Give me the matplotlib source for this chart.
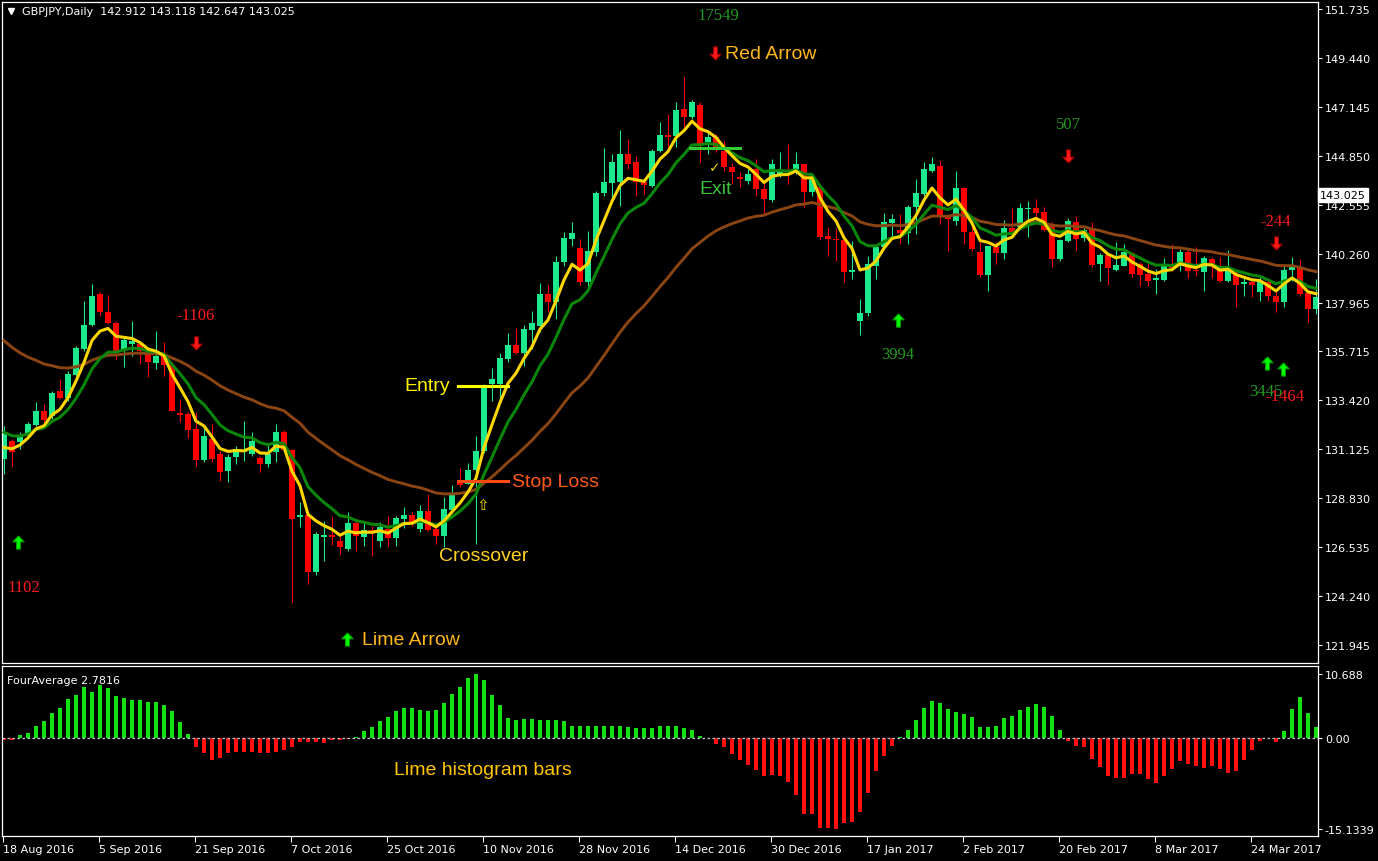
import matplotlib
matplotlib.use('Agg')
import matplotlib.pyplot as plt
from matplotlib.path import Path
from matplotlib.transforms import blended_transform_factory
import numpy as np
import pandas as pd

plt.rcParams['font.family'] = ['DejaVu Sans']

# ─── Data ───
opens = [130.67, 131.52, 131.45, 131.84, 132.26, 132.90, 132.70, 133.85, 133.51, 134.60,
         135.82, 136.94, 138.39, 137.53, 137.03, 135.82, 136.05, 136.05, 135.58, 135.16,
         135.58, 135.07, 132.82, 132.77, 132.07, 130.62, 131.60, 130.90, 130.12, 130.75,
         131.01, 130.90, 130.71, 130.43, 131.00, 131.92, 131.09, 127.94, 128.05, 125.36,
         127.03, 127.08, 126.85, 126.46, 127.67, 127.03, 127.36, 126.85, 127.39, 126.99,
         127.86, 128.06, 127.39, 128.24, 127.39, 127.08, 128.30, 129.61, 129.50, 130.13,
         131.06, 134.18, 134.18, 135.36, 136.01, 135.63, 136.73, 136.91, 138.38, 138.04,
         139.88, 140.97, 140.53, 138.97, 140.37, 143.12, 143.59, 143.62, 144.95, 144.56,
         143.62, 143.46, 145.10, 145.84, 145.81, 147.05, 146.66, 147.24, 145.49, 145.73,
         145.10, 144.36, 143.86, 143.70, 144.25, 143.31, 142.79, 143.93, 144.06, 144.24,
         144.48, 143.18, 143.39, 141.09, 140.97, 140.94, 139.41, 137.15, 137.51, 139.72,
         140.58, 141.72, 141.39, 141.25, 142.45, 143.07, 144.17, 144.40, 141.98, 141.83,
         143.36, 141.28, 140.38, 139.28, 140.61, 140.31, 141.47, 141.51, 142.38, 142.40,
         142.22, 141.67, 140.03, 140.89, 141.75, 141.00, 141.44, 139.80, 140.22, 139.53,
         139.72, 140.31, 139.80, 139.33, 139.06, 139.07, 139.70, 139.69, 140.34, 139.53,
         139.44, 140.03, 139.69, 139.02, 139.33, 138.88, 138.94, 138.50, 138.94, 138.32,
         138.04, 139.53, 139.64, 138.44, 137.69]
highs = [132.23, 131.60, 131.92, 132.38, 133.32, 133.24, 133.87, 134.41, 134.80, 135.97,
         138.08, 138.86, 138.50, 138.34, 137.14, 136.36, 137.14, 136.10, 135.69, 136.67,
         136.13, 135.19, 133.48, 132.85, 132.85, 132.10, 132.31, 131.06, 130.90, 131.29,
         132.43, 131.95, 130.83, 131.37, 132.29, 132.04, 131.14, 128.64, 128.17, 127.24,
         127.78, 127.94, 127.08, 128.17, 127.86, 127.70, 127.55, 127.70, 128.02, 128.02,
         128.44, 128.20, 128.52, 129.03, 127.47, 128.87, 129.45, 130.25, 130.46, 131.76,
         134.18, 134.92, 135.63, 136.56, 136.79, 136.95, 137.58, 138.91, 138.82, 140.19,
         141.31, 141.75, 140.97, 141.36, 143.23, 145.23, 144.95, 146.07, 145.65, 144.84,
         143.78, 145.18, 146.43, 146.82, 147.37, 148.54, 147.49, 147.37, 145.96, 145.88,
         145.57, 144.51, 144.09, 144.24, 144.71, 143.54, 144.71, 145.03, 145.41, 145.03,
         144.48, 144.01, 143.46, 141.51, 141.44, 141.12, 140.89, 138.16, 140.19, 140.74,
         142.17, 142.14, 142.14, 142.56, 143.78, 144.59, 144.82, 144.68, 142.06, 144.17,
         143.39, 141.90, 140.89, 140.66, 140.81, 141.88, 142.40, 142.65, 142.76, 142.84,
         142.45, 141.75, 140.97, 141.93, 142.06, 141.47, 141.78, 140.31, 140.27, 140.81,
         140.73, 140.38, 139.91, 139.84, 139.56, 140.06, 140.73, 140.50, 140.50, 140.58,
         140.19, 140.14, 140.14, 140.47, 139.49, 139.17, 139.10, 139.25, 139.10, 138.55,
         139.69, 140.11, 140.03, 138.50, 139.10]
lows = [129.97, 130.33, 131.14, 131.76, 132.23, 132.38, 132.54, 133.48, 133.40, 134.57,
        135.74, 136.91, 137.38, 136.99, 135.35, 134.96, 135.50, 135.11, 134.49, 134.88,
        134.57, 132.90, 132.42, 131.64, 130.36, 130.54, 130.51, 129.65, 129.61, 130.43,
        130.59, 130.83, 130.04, 130.28, 130.51, 131.06, 123.96, 127.47, 124.82, 125.24,
        125.91, 126.64, 126.22, 126.38, 126.38, 126.61, 126.11, 126.53, 126.61, 126.61,
        127.42, 127.55, 127.27, 127.31, 126.69, 126.53, 128.17, 129.34, 129.50, 126.69,
        130.95, 133.40, 133.40, 135.20, 135.59, 135.01, 135.82, 136.60, 137.57, 137.23,
        139.72, 140.66, 138.82, 138.66, 140.19, 143.00, 142.72, 142.53, 144.24, 142.99,
        143.08, 143.39, 145.06, 145.18, 145.26, 146.04, 146.58, 144.56, 144.95, 145.03,
        144.17, 143.54, 143.39, 143.54, 142.99, 142.14, 142.68, 143.86, 143.54, 144.01,
        142.45, 142.99, 140.95, 140.19, 139.95, 138.94, 139.10, 136.48, 137.35, 139.10,
        140.50, 141.13, 140.74, 140.74, 141.20, 142.99, 144.09, 141.67, 140.42, 141.62,
        140.74, 140.42, 139.17, 138.55, 139.80, 140.03, 141.20, 141.44, 141.05, 141.67,
        141.36, 139.64, 139.95, 140.81, 140.47, 140.89, 139.64, 139.02, 138.81, 139.49,
        139.69, 139.17, 138.75, 138.75, 138.39, 139.02, 139.49, 139.49, 139.14, 139.25,
        138.55, 139.14, 138.94, 138.94, 137.77, 138.29, 138.24, 138.08, 138.08, 137.54,
        137.77, 139.02, 138.32, 137.10, 137.46]
closes = [131.92, 131.01, 131.68, 132.31, 132.93, 132.51, 133.76, 133.51, 134.63, 135.86,
          136.94, 138.28, 137.53, 137.03, 135.69, 136.25, 136.20, 135.74, 135.22, 135.50,
          135.07, 132.93, 132.74, 132.04, 130.62, 131.76, 130.67, 130.08, 130.75, 131.14,
          131.03, 131.52, 130.43, 130.90, 131.95, 131.09, 127.86, 128.05, 125.40, 127.16,
          127.11, 127.03, 126.54, 127.67, 127.05, 127.33, 127.20, 127.47, 126.97, 127.91,
          128.06, 127.70, 128.24, 127.36, 127.08, 128.33, 129.03, 129.45, 130.15, 131.06,
          134.07, 134.42, 135.38, 136.01, 135.63, 136.76, 137.02, 138.38, 138.04, 139.88,
          141.00, 141.24, 138.97, 140.42, 143.12, 143.62, 144.56, 144.95, 144.48, 143.62,
          143.50, 145.10, 145.84, 145.76, 147.01, 146.70, 147.37, 145.41, 145.73, 145.18,
          144.33, 144.09, 143.78, 144.01, 143.31, 142.84, 144.48, 144.12, 144.01, 144.48,
          143.18, 143.85, 141.05, 140.97, 140.92, 139.44, 139.52, 137.51, 139.80, 140.58,
          141.75, 141.90, 141.24, 142.45, 143.12, 144.24, 144.48, 141.98, 141.90, 143.36,
          141.28, 140.50, 139.28, 140.63, 140.31, 141.48, 141.31, 142.42, 142.40, 142.18,
          141.41, 140.03, 140.92, 141.79, 140.97, 141.41, 139.77, 140.22, 139.59, 139.75,
          140.34, 139.33, 139.28, 139.02, 139.12, 139.75, 139.63, 140.37, 139.49, 139.47,
          140.08, 139.69, 139.02, 139.64, 138.81, 138.92, 138.82, 138.94, 138.32, 138.04,
          139.53, 139.69, 138.39, 137.69, 138.24]

# FourAverage histogram, one value per bar
four_avg = [-0.33, -0.33, 0.52, 0.86, 1.95, 2.82, 4.14, 5.00, 6.55, 7.24,
             8.56, 7.70, 8.79, 8.39, 7.07, 6.67, 6.38, 6.38, 5.98, 5.92,
             5.52, 4.43, 2.70, 0.69, -1.58, -2.50, -3.70, -3.32, -2.56, -2.34,
             -2.34, -2.29, -2.45, -2.45, -2.40, -2.01, -1.42, -0.71, -0.60, -0.60,
             -0.76, -0.38, -0.38, -0.11, 0.17, 1.21, 1.78, 2.87, 3.56, 4.43,
             4.94, 5.00, 4.71, 4.54, 4.71, 5.80, 7.41, 8.56, 10.00, 10.688,
             9.60, 7.24, 5.52, 3.28, 2.93, 3.16, 3.16, 2.93, 2.93, 2.93,
             2.82, 2.01, 1.95, 1.95, 2.01, 2.07, 2.07, 2.07, 1.90, 1.67,
             1.61, 1.67, 2.01, 2.07, 1.95, 1.61, 1.38, 0.34, -0.05, -0.98,
             -1.42, -2.61, -3.70, -4.52, -5.33, -6.31, -6.21, -6.31, -7.29, -9.58,
             -12.68, -12.68, -14.97, -14.97, -15.1339, -14.15, -14.04, -12.36, -9.20, -5.50,
             -2.99, -1.25, 0.10, 1.38, 2.93, 5.00, 6.15, 5.80, 4.83, 4.31,
             3.97, 3.45, 1.90, 1.90, 2.07, 3.28, 3.62, 4.66, 5.17, 5.69,
             5.17, 3.62, 1.38, -0.44, -1.25, -1.58, -3.54, -4.84, -6.31, -6.64,
             -6.64, -6.04, -5.99, -6.86, -7.46, -6.31, -5.23, -3.76, -4.30, -4.68,
             -4.95, -4.68, -5.23, -5.88, -5.55, -3.70, -2.07, -0.44, 0.0, -0.60,
             1.21, 4.83, 6.90, 4.14, 1.90]

date_labels = ['18 Aug 2016', '5 Sep 2016', '21 Sep 2016', '7 Oct 2016', '25 Oct 2016',
               '10 Nov 2016', '28 Nov 2016', '14 Dec 2016', '30 Dec 2016', '17 Jan 2017',
               '2 Feb 2017', '20 Feb 2017', '8 Mar 2017', '24 Mar 2017']
price_ticks = [151.735, 149.440, 147.145, 144.850, 142.555, 140.260, 137.965,
               135.715, 133.420, 131.125, 128.830, 126.535, 124.240, 121.945]
hist_ticks = [10.688, 0.0, -15.1339]
hist_tick_labels = ['10.688', '0.00', '-15.1339']

# value of each moving average at the first visible bar (history not shown)
fast_seed, mid_seed, slow_seed = 131.21, 131.92, 136.21

# signal arrows and their labels (bar, price)
lime_arrows = [(1.75, 126.78), (111.75, 137.18), (157.9, 135.16), (159.9, 134.88), (42.9, 122.24)]
red_arrows = [(24, 136.10), (88.9, 149.67), (133, 144.85), (159, 140.78)]
signal_labels = [('1102', 2.5, 124.67, 'red'), ('-1106', 24, 137.41, 'red'),
                 ('17549', 89.25, 151.45, 'green'), ('507', 133, 146.35, 'green'),
                 ('-244', 159, 141.81, 'red'), ('3994', 111.75, 135.58, 'green'),
                 ('3445', 157.7, 133.85, 'green'), ('-1464', 160.1, 133.62, 'red')]

# ─── Figure ───
W, H = 1378, 862
fig = plt.figure(figsize=(W / 100, H / 100), dpi=100)
fig.patch.set_facecolor('black')

ax = fig.add_axes([2 / W, (H - 664) / H, 1316 / W, 661 / H])
axh = fig.add_axes([2 / W, (H - 837) / H, 1316 / W, 170 / H])

bull = '#1BE98C'
bear = '#FF0000'
hist_green = '#11E011'
hist_red = '#FF1010'

for a in (ax, axh):
    a.set_facecolor('black')
    for s in a.spines.values():
        s.set_color('white')
        s.set_linewidth(0.9)
    a.set_xlim(-0.25, 164.25)
    a.yaxis.tick_right()
    a.tick_params(axis='y', colors='white', length=3, width=0.8, pad=2, labelsize=8)

x = np.arange(len(closes))
o = np.array(opens)
c = np.array(closes)
hi = np.array(highs)
lo = np.array(lows)
col = np.where(c >= o, bull, bear)

# candles
ax.vlines(x, lo, hi, colors=col, lw=0.8, zorder=2)
body_lo = np.minimum(o, c)
body_h = np.maximum(np.abs(c - o), 0.06)
ax.bar(x, body_h, bottom=body_lo, width=0.66, color=col, linewidth=0, zorder=2)


def seeded_ema(values, seed, span):
    s = pd.Series(values, dtype=float)
    s.iloc[0] = seed
    return s.ewm(span=span, adjust=False).mean()


ax.plot(x, seeded_ema(closes, slow_seed, 32), color='#8B4513', lw=2.1, zorder=3)
ax.plot(x, seeded_ema(closes, mid_seed, 10), color='#0A870A', lw=2.2, zorder=3)
ax.plot(x, seeded_ema(closes, fast_seed, 5), color='#FFD700', lw=2.2, zorder=4)

ax.set_ylim(121.117, 152.063)
ax.set_yticks(price_ticks)
ax.set_yticklabels([f'{p:.3f}' for p in price_ticks])
ax.set_xticks([])

# arrows (MT4 wingdings-like, thick head on a short shaft)
up_verts = [(0, 1), (0.85, 0.1), (0.3, 0.1), (0.3, -1), (-0.3, -1), (-0.3, 0.1), (-0.85, 0.1), (0, 1)]
up_arrow = Path(up_verts)
down_arrow = Path([(vx, -vy) for vx, vy in up_verts])
for ix, py in lime_arrows:
    ax.plot(ix, py, marker=up_arrow, ms=9.5, color='#00FF00', mec='#00A000', mew=0.8, zorder=6)
for ix, py in red_arrows:
    ax.plot(ix, py, marker=down_arrow, ms=9.5, color='#FF1A1A', mec='#A00000', mew=0.8, zorder=6)

num_colors = {'red': '#FF1A1A', 'green': '#229A22'}
for txt, ix, py, cname in signal_labels:
    ax.text(ix, py, txt, color=num_colors[cname], fontsize=12, family='Liberation Serif',
            ha='center', va='center', zorder=6)

# trade annotations
ann_font = dict(family='Liberation Sans', fontsize=14, zorder=7)
ax.text(90.1, 149.67, 'Red Arrow', color='#FFB81C', ha='left', va='center', **ann_font)
ax.text(44.75, 122.20, 'Lime Arrow', color='#FFB81C', ha='left', va='center', **ann_font)
ax.plot([56.75, 63.0], [134.09, 134.09], color='#FFFF00', lw=2.2, zorder=7)
ax.text(55.75, 134.09, 'Entry', color='#FFF200', ha='right', va='center', **ann_font)
ax.plot([56.75, 63.0], [129.63, 129.63], color='#FF4A12', lw=2.2, zorder=7)
ax.text(63.5, 129.63, 'Stop Loss', color='#FF5A1A', ha='left', va='center', **ann_font)
ax.text(59.9, 126.17, 'Crossover', color='#FFD21F', ha='center', va='center', **ann_font)
ax.text(59.9, 128.56, '\u21e7', color='#FFE000', fontsize=11, ha='center', va='center', zorder=7)
ax.plot([85.75, 92.0], [145.23, 145.23], color='#33CC33', lw=2.2, zorder=7)
ax.text(88.8, 144.34, '\u2713', color='#E8D000', fontsize=10, ha='center', va='center', zorder=7)
ax.text(88.9, 143.31, 'Exit', color='#3DBE3D', ha='center', va='center', **ann_font)

# current price box on the price scale
tr = blended_transform_factory(ax.transAxes, ax.transData)
ax.text(1.0015, 143.025, '143.025', transform=tr, ha='left', va='center', fontsize=8,
        color='black', zorder=10, clip_on=False,
        bbox=dict(boxstyle='square,pad=0.18', facecolor='white', edgecolor='white'))

# ─── FourAverage histogram ───
hv = np.array(four_avg)
axh.bar(x, hv, width=0.62, color=np.where(hv >= 0, hist_green, hist_red), linewidth=0, zorder=2)
axh.axhline(0, color='#C8C8C8', lw=0.9, ls=(0, (2, 2)), zorder=3)
axh.set_ylim(-16.33, 12.0)
axh.set_yticks(hist_ticks)
axh.set_yticklabels(hist_tick_labels)
axh.text(59.9, -5.33, 'Lime histogram bars', color='#FFC400', ha='center', va='center', **ann_font)
axh.text(0.004, 0.92, 'FourAverage 2.7816', transform=axh.transAxes, color='white',
         fontsize=8, ha='left', va='center')

tick_pos = [12 * k - 0.125 for k in range(len(date_labels))]
axh.set_xticks(tick_pos)
axh.set_xticklabels(date_labels, ha='left')
axh.tick_params(axis='x', colors='white', length=4, width=0.8, pad=2, labelsize=8)

# header
fig.text(22 / W, 1 - 12 / H, 'GBPJPY,Daily  142.912 143.118 142.647 143.025',
         color='white', fontsize=8, ha='left', va='center')
fig.lines.append(plt.Line2D([11 / W], [1 - 12 / H], marker='v', ms=5, color='white',
                            transform=fig.transFigure))

fig.savefig('out.png', dpi=100, facecolor='black')
